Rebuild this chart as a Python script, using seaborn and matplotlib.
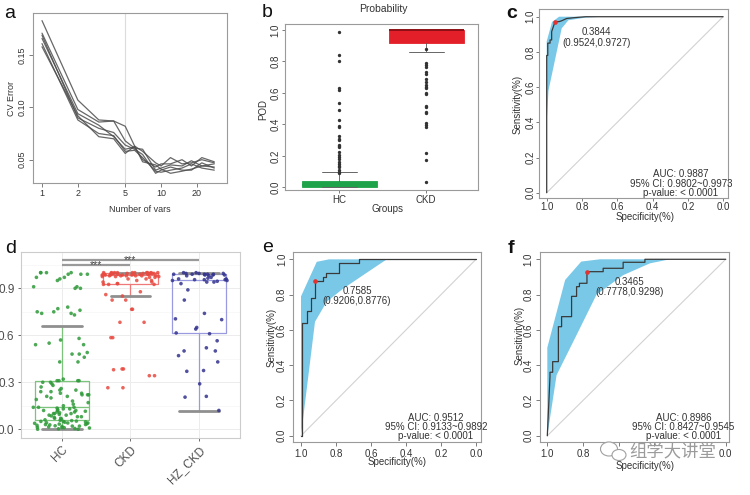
import numpy as np
import pandas as pd
import matplotlib
matplotlib.use("Agg")
import matplotlib.pyplot as plt
from matplotlib.patches import Ellipse
from matplotlib.ticker import NullLocator, FixedLocator
import seaborn as sns

# ---------------- data ----------------
# (a) CV error vs number of variables (six repeated runs)
cv_vars = [1, 2, 3, 4, 5, 6, 7, 9, 10, 12, 15, 18, 22, 28]
cv_run1 = [0.183, 0.107, 0.088, 0.087, 0.082, 0.063, 0.058, 0.047, 0.044, 0.052, 0.046, 0.047, 0.050, 0.047]
cv_run2 = [0.171, 0.098, 0.086, 0.087, 0.068, 0.061, 0.060, 0.040, 0.042, 0.045, 0.044, 0.049, 0.044, 0.046]
cv_run3 = [0.169, 0.090, 0.080, 0.076, 0.064, 0.060, 0.055, 0.037, 0.040, 0.043, 0.040, 0.040, 0.047, 0.042]
cv_run4 = [0.166, 0.094, 0.083, 0.072, 0.060, 0.062, 0.050, 0.043, 0.046, 0.046, 0.050, 0.044, 0.052, 0.048]
cv_run5 = [0.161, 0.088, 0.075, 0.073, 0.058, 0.059, 0.052, 0.039, 0.038, 0.040, 0.042, 0.046, 0.042, 0.040]
cv_run6 = [0.158, 0.092, 0.072, 0.070, 0.056, 0.063, 0.048, 0.045, 0.041, 0.037, 0.039, 0.041, 0.044, 0.043]
cv_runs = [cv_run1, cv_run2, cv_run3, cv_run4, cv_run5, cv_run6]
cv_xticks = [1, 2, 5, 10, 20]
cv_yticks = [0.05, 0.10, 0.15]
cv_ytick_labels = ["0.05", "0.10", "0.15"]
cv_selected = 5

# (b) predicted probability (POD)
prob_groups = ["HC", "CKD"]
prob_q1 = [0.003, 0.919]
prob_median = [0.012, 0.997]
prob_q3 = [0.042, 1.0]
prob_whislo = [0.0, 0.858]
prob_whishi = [0.095, 1.0]
prob_hc_outliers = [0.989, 0.841, 0.805, 0.63, 0.62, 0.534, 0.49, 0.428, 0.39, 0.383, 0.326, 0.31, 0.30,
                    0.27, 0.26, 0.255, 0.226, 0.205, 0.195, 0.178, 0.163, 0.148, 0.135, 0.127, 0.11, 0.099, 0.089]
prob_ckd_outliers = [0.877, 0.792, 0.777, 0.763, 0.735, 0.72, 0.687, 0.671, 0.65, 0.64, 0.63, 0.60, 0.595,
                     0.517, 0.508, 0.48, 0.474, 0.407, 0.395, 0.385, 0.216, 0.174, 0.036]
prob_yticks = [0.0, 0.2, 0.4, 0.6, 0.8, 1.0]
prob_ytick_labels = ["0.0", "0.2", "0.4", "0.6", "0.8", "1.0"]

# ROC common ticks
roc_xticks = [1.0, 0.8, 0.6, 0.4, 0.2, 0.0]
roc_xtick_labels = ["1.0", "0.8", "0.6", "0.4", "0.2", "0.0"]
roc_yticks = [0.0, 0.2, 0.4, 0.6, 0.8, 1.0]
roc_ytick_labels = ["0.0", "0.2", "0.4", "0.6", "0.8", "1.0"]

# (c) ROC training
c_curve_spec = [1.0, 1.0, 0.994, 0.994, 0.981, 0.981, 0.972, 0.972, 0.9524, 0.93, 0.915, 0.887, 0.84, 0.78, 0.0]
c_curve_sens = [0.0, 0.78, 0.78, 0.85, 0.85, 0.868, 0.868, 0.915, 0.9727, 0.972, 0.977, 0.99, 0.995, 1.0, 1.0]
c_hi_spec = [1.0, 1.0, 0.97, 0.93]
c_hi_sens = [0.40, 0.86, 0.97, 1.0]
c_lo_spec = [1.0, 0.99, 0.915, 0.877, 0.78, 0.68]
c_lo_sens = [0.40, 0.58, 0.934, 0.98, 0.995, 1.0]
c_best = (0.9524, 0.9727)
c_thr_text = ["0.3844", "(0.9524,0.9727)"]
c_auc_text = ["AUC: 0.9887", "95% CI: 0.9802~0.9973", "p-value: < 0.0001"]

# (e) ROC validation 1
e_curve_spec = [1.0, 0.996, 0.996, 0.967, 0.967, 0.945, 0.945, 0.9206, 0.9206, 0.876, 0.876, 0.857, 0.857,
                0.78, 0.78, 0.667, 0.667, 0.0]
e_curve_sens = [0.0, 0.0, 0.637, 0.637, 0.71, 0.71, 0.78, 0.78, 0.8776, 0.8776, 0.90, 0.90, 0.92,
                0.92, 0.977, 0.977, 1.0, 1.0]
e_hi_spec = [1.0, 1.0, 0.91, 0.84]
e_hi_sens = [0.0, 0.79, 0.986, 1.0]
e_lo_spec = [1.0, 0.92, 0.853, 0.758, 0.587, 0.51]
e_lo_sens = [0.0, 0.646, 0.76, 0.835, 0.949, 1.0]
e_best = (0.9206, 0.8776)
e_thr_text = ["0.7585", "(0.9206,0.8776)"]
e_auc_text = ["AUC: 0.9512", "95% CI: 0.9133~0.9892", "p-value: < 0.0001"]

# (f) ROC validation 2
f_curve_spec = [1.0, 0.985, 0.985, 0.97, 0.97, 0.938, 0.938, 0.92, 0.92, 0.864, 0.864, 0.836, 0.836,
                0.82, 0.82, 0.7778, 0.7778, 0.687, 0.687, 0.575, 0.575, 0.453, 0.453, 0.0]
f_curve_sens = [0.0, 0.335, 0.36, 0.36, 0.42, 0.42, 0.618, 0.618, 0.675, 0.675, 0.79, 0.79, 0.845,
                0.845, 0.864, 0.864, 0.9298, 0.9298, 0.949, 0.949, 0.983, 0.983, 1.0, 1.0]
f_hi_spec = [1.0, 1.0, 0.90, 0.81, 0.705]
f_hi_sens = [0.0, 0.50, 0.883, 0.987, 1.0]
f_lo_spec = [1.0, 0.948, 0.836, 0.724, 0.575, 0.425, 0.313]
f_lo_sens = [0.0, 0.344, 0.571, 0.80, 0.91, 0.977, 1.0]
f_best = (0.7778, 0.9298)
f_thr_text = ["0.3465", "(0.7778,0.9298)"]
f_auc_text = ["AUC: 0.8986", "95% CI: 0.8427~0.9545", "p-value: < 0.0001"]
f_hidden_xticks = ["0.6", "0.4", "0.2"]   # covered by the watermark in the reference

# (d) jittered box plot
d_groups = ["HC", "CKD", "HZ_CKD"]
d_hc = [0.0, 0.0, 0.003, 0.005, 0.008, 0.01, 0.01, 0.012, 0.015, 0.018, 0.02, 0.02, 0.022, 0.025, 0.028,
        0.03, 0.03, 0.033, 0.035, 0.038, 0.04, 0.04, 0.042, 0.045, 0.047, 0.05, 0.05, 0.052, 0.055, 0.057,
        0.06, 0.065, 0.07, 0.07, 0.075, 0.08, 0.08, 0.085, 0.09, 0.09, 0.095, 0.1, 0.1, 0.1, 0.105,
        0.11, 0.11, 0.115, 0.12, 0.12, 0.12, 0.125, 0.13, 0.13, 0.135, 0.14, 0.14, 0.14,
        0.15, 0.16, 0.17, 0.18, 0.19, 0.2, 0.21, 0.21, 0.22, 0.22, 0.22, 0.23, 0.23, 0.24, 0.24,
        0.25, 0.25, 0.26, 0.27, 0.28, 0.29, 0.3, 0.3, 0.31, 0.31, 0.31, 0.31, 0.32,
        0.43, 0.43, 0.46, 0.48, 0.48, 0.49, 0.54, 0.54, 0.55, 0.57, 0.58,
        0.73, 0.74, 0.74, 0.75, 0.75, 0.76, 0.77, 0.78,
        0.9, 0.9, 0.91, 0.91, 0.95, 0.96, 0.97, 0.97, 0.99, 0.99, 0.99, 1.0, 1.0, 1.0, 1.0]
d_ckd = [1.0, 1.0, 1.0, 1.0, 1.0, 1.0, 1.0, 1.0, 1.0, 1.0,
         0.995, 0.995, 0.995, 0.995, 0.995, 0.995, 0.995, 0.995,
         0.99, 0.99, 0.99, 0.99, 0.99, 0.99, 0.99, 0.99,
         0.985, 0.985, 0.985, 0.985, 0.985, 0.985,
         0.98, 0.98, 0.98, 0.98, 0.98, 0.98,
         0.975, 0.975, 0.975, 0.97, 0.97, 0.96, 0.96, 0.95, 0.95, 0.94, 0.94, 0.93, 0.93,
         0.925, 0.925, 0.925, 0.878, 0.86, 0.851, 0.825, 0.825, 0.766, 0.766, 0.683, 0.683,
         0.585, 0.585, 0.385, 0.385, 0.38, 0.342, 0.342, 0.265, 0.265]
d_hz = [1.0, 1.0, 0.995, 0.995, 0.995, 0.99, 0.99, 0.99, 0.99, 0.99, 0.985, 0.985, 0.985, 0.98, 0.98,
        0.97, 0.965, 0.96, 0.96, 0.955, 0.955, 0.955, 0.95, 0.95, 0.945, 0.94, 0.94, 0.93,
        0.89, 0.825, 0.74, 0.705, 0.70, 0.65, 0.64, 0.615, 0.61, 0.565, 0.52, 0.50, 0.50, 0.47,
        0.43, 0.375, 0.37, 0.29, 0.21, 0.205, 0.12]
d_q1 = [0.057, 0.925, 0.615]
d_median = [0.14, 0.985, 0.95]
d_q3 = [0.31, 0.995, 0.99]
d_whislo = [0.0, 0.85, 0.115]
d_whishi = [0.66, 1.0, 1.0]
d_yticks = [0.0, 0.3, 0.6, 0.9]
d_ytick_labels = ["0.0", "0.3", "0.6", "0.9"]
sig_pairs = [(0, 1), (0, 2)]
sig_y = [1.048, 1.08]
sig_labels = ["***", "***"]

watermark = "组学大讲堂"

# ---------------- style ----------------
sns.set_theme(style="white")
plt.rcParams['font.family'] = ['Liberation Sans', 'Noto Sans CJK SC', 'DejaVu Sans']
plt.rcParams['axes.unicode_minus'] = False

W, H = 750, 495
fig = plt.figure(figsize=(W / 100, H / 100), dpi=100)
fig.patch.set_facecolor('white')


def axpx(l, t, r, b):
    return fig.add_axes([l / W, 1 - b / H, (r - l) / W, (b - t) / H])


def ftext(x, y, s, **kw):
    kw.setdefault('ha', 'center')
    kw.setdefault('va', 'center')
    return fig.text(x / W, 1 - y / H, s, **kw)


SPINE = '#9a9a9a'
TXT = '#333333'


def rstyle(ax, size=7, length=3, pad=1.5):
    ax.set_facecolor('white')
    for sp in ax.spines.values():
        sp.set_visible(True)
        sp.set_color(SPINE)
        sp.set_linewidth(0.8)
    ax.tick_params(direction='out', length=length, width=0.6, color='#666666',
                   labelsize=size, labelcolor=TXT, pad=pad, bottom=True, left=True)
    ax.grid(False)


# ---------------- panel a ----------------
ax_a = axpx(33.3, 13.3, 226.7, 182.7)
rows = []
for k, run in enumerate(cv_runs):
    for v, e in zip(cv_vars, run):
        rows.append((k, v, e))
df_a = pd.DataFrame(rows, columns=['run', 'vars', 'err'])
ax_a.axvline(cv_selected, color='#ead6d6', lw=0.8, zorder=1)
sns.lineplot(data=df_a, x='vars', y='err', units='run', estimator=None,
             color='#4d4d4d', lw=0.9, alpha=0.85, ax=ax_a, zorder=2)
ax_a.set_xscale('log')
ax_a.set_xlim(0.845, 35.6)
ax_a.set_ylim(0.028, 0.19)
ax_a.set_xticks(cv_xticks)
ax_a.set_xticklabels([str(t) for t in cv_xticks])
ax_a.xaxis.set_minor_locator(NullLocator())
ax_a.set_yticks(cv_yticks)
ax_a.set_yticklabels(cv_ytick_labels, rotation=90, va='center')
ax_a.set_xlabel('')
ax_a.set_ylabel('')
rstyle(ax_a, 6.5)
ftext(11, 98, 'CV Error', rotation=90, fontsize=6.5, color=TXT)
ftext(140, 209, 'Number of vars', fontsize=6.5, color=TXT)

# ---------------- panel b ----------------
ax_b = axpx(285, 24, 478.3, 190.5)
prob_fill = ['#1fa34a', '#e3202a']
prob_dark = ['#1fa34a', '#8c0f14']
prob_outliers = [prob_hc_outliers, prob_ckd_outliers]
for i in range(2):
    st = [dict(med=prob_median[i], q1=prob_q1[i], q3=prob_q3[i],
               whislo=prob_whislo[i], whishi=prob_whishi[i], fliers=prob_outliers[i])]
    ax_b.bxp(st, positions=[i + 1], widths=0.86, patch_artist=True, showfliers=True,
             capwidths=0.4,
             boxprops=dict(facecolor=prob_fill[i], edgecolor=prob_fill[i], lw=0.6),
             medianprops=dict(color=prob_dark[i], lw=1.4),
             whiskerprops=dict(color='#555555', lw=0.6),
             capprops=dict(color='#666666', lw=0.7),
             flierprops=dict(marker='o', markersize=1.4, markerfacecolor='#333333',
                             markeredgecolor='#333333', linestyle='none'))
ax_b.set_xlim(0.379, 2.598)
ax_b.set_ylim(-0.02, 1.038)
ax_b.set_xticks([1, 2])
ax_b.set_xticklabels(prob_groups)
ax_b.set_yticks(prob_yticks)
ax_b.set_yticklabels(prob_ytick_labels, rotation=90, va='center')
rstyle(ax_b, 7, length=2.5, pad=1)
ftext(383, 9.5, 'Probability', fontsize=7.5, color=TXT)
ftext(263, 109, 'POD', rotation=90, fontsize=7, color=TXT)
ftext(388, 209, 'Groups', fontsize=7, color=TXT)

# ---------------- ROC panels ----------------
BAND = '#79c8e8'


def roc_panel(ax, c_spec, c_sens, hi_spec, hi_sens, lo_spec, lo_sens, best,
              thr_text, thr_pos, auc_text, auc_pos, xlim, ylim, length=3, pad=1.5):
    ax.fill(list(hi_spec) + list(lo_spec)[::-1], list(hi_sens) + list(lo_sens)[::-1],
            color=BAND, lw=0, zorder=1)
    ax.plot([1.0, 0.0], [0.0, 1.0], color='#d2d2d2', lw=0.8, zorder=2)
    ax.plot(c_spec, c_sens, color='#3a3a3a', lw=0.9, zorder=3)
    ax.plot([best[0]], [best[1]], 'o', ms=2.3, color='#e5322d', zorder=4)
    ax.set_xlim(*xlim)
    ax.set_ylim(*ylim)
    ax.set_xticks(roc_xticks)
    ax.set_xticklabels(roc_xtick_labels)
    ax.set_yticks(roc_yticks)
    ax.set_yticklabels(roc_ytick_labels, rotation=90, va='center')
    rstyle(ax, 7, length=length, pad=pad)
    ax.text(thr_pos[0], thr_pos[1], thr_text[0], ha='center', va='center', fontsize=7, color=TXT)
    ax.text(thr_pos[0], thr_pos[2], thr_text[1], ha='center', va='center', fontsize=7, color=TXT)
    for line, y in zip(auc_text, auc_pos[1:]):
        ax.text(auc_pos[0], y, line, ha='center', va='center', fontsize=7, color=TXT)


ax_c = axpx(539.3, 8.8, 727.5, 198)
roc_panel(ax_c, c_curve_spec, c_curve_sens, c_hi_spec, c_hi_sens, c_lo_spec, c_lo_sens, c_best,
          c_thr_text, (0.717, 0.911, 0.852), c_auc_text, (0.24, 0.104, 0.052, 0.0),
          (1.042, -0.025), (-0.03, 1.045), length=2, pad=0.8)
ftext(518, 104, 'Sensitivity(%)', rotation=90, fontsize=7, color=TXT)
ftext(645, 217, 'Specificity(%)', fontsize=7, color=TXT)

ax_e = axpx(293.3, 252.3, 480.7, 442.3)
roc_panel(ax_e, e_curve_spec, e_curve_sens, e_hi_spec, e_hi_sens, e_lo_spec, e_lo_sens, e_best,
          e_thr_text, (0.68, 0.822, 0.763), e_auc_text, (0.229, 0.099, 0.048, 0.0),
          (1.044, -0.027), (-0.037, 1.04))
ftext(272, 337, 'Sensitivity(%)', rotation=90, fontsize=7, color=TXT)
ftext(397, 462, 'Specificity(%)', fontsize=7, color=TXT)

ax_f = axpx(540, 251.7, 729.3, 442.3)
roc_panel(ax_f, f_curve_spec, f_curve_sens, f_hi_spec, f_hi_sens, f_lo_spec, f_lo_sens, f_best,
          f_thr_text, (0.541, 0.873, 0.816), f_auc_text, (0.237, 0.099, 0.048, 0.0),
          (1.041, -0.02), (-0.037, 1.043))
for tl in ax_f.get_xticklabels():
    if tl.get_text() in f_hidden_xticks:
        tl.set_visible(False)
ftext(520, 335, 'Sensitivity(%)', rotation=90, fontsize=7, color=TXT)
ftext(645, 466, 'Specificity(%)', fontsize=7, color=TXT)

# ---------------- panel d ----------------
ax_d = axpx(20.7, 252.3, 240, 437.7)
d_values = [d_hc, d_ckd, d_hz]
df_d = pd.DataFrame({'group': [g for g, vals in zip(d_groups, d_values) for _ in vals],
                     'value': [v for vals in d_values for v in vals]})
d_box_colors = ['#7cc47c', '#f07878', '#9a9ae0']
d_point_colors = ['#2f9a3a', '#e84a40', '#33338f']
for i in range(3):
    st = [dict(med=d_median[i], q1=d_q1[i], q3=d_q3[i], whislo=d_whislo[i], whishi=d_whishi[i])]
    ax_d.bxp(st, positions=[i], widths=0.8, showfliers=False, capwidths=0.58,
             boxprops=dict(color=d_box_colors[i], lw=0.9),
             medianprops=dict(color=d_box_colors[i], lw=0.9),
             whiskerprops=dict(color=d_box_colors[i], lw=0.9),
             capprops=dict(color='#8f8f8f', lw=2.0))
np.random.seed(7)
sns.stripplot(data=df_d, x='group', y='value', hue='group', order=d_groups, hue_order=d_groups,
              palette=d_point_colors, jitter=0.42, size=2.6, linewidth=0, alpha=0.85,
              legend=False, ax=ax_d, zorder=3)
for (a, b), y, lab in zip(sig_pairs, sig_y, sig_labels):
    ax_d.plot([a, b], [y, y], color='#9a9a9a', lw=1.6, solid_capstyle='butt', zorder=4)
    ax_d.text((a + b) / 2, y, lab, ha='center', va='center', fontsize=7.5, color='#444444', zorder=5)
ax_d.set_xlim(-0.603, 2.6)
ax_d.set_ylim(-0.054, 1.13)
ax_d.set_xticks([0, 1, 2])
ax_d.set_xticklabels(d_groups, rotation=45, ha='right', rotation_mode='anchor')
ax_d.set_yticks(d_yticks)
ax_d.set_yticklabels(d_ytick_labels)
ax_d.yaxis.set_minor_locator(FixedLocator([0.15, 0.45, 0.75, 1.05]))
ax_d.set_xlabel('')
ax_d.set_ylabel('')
ax_d.set_facecolor('white')
ax_d.set_axisbelow(True)
ax_d.grid(True, which='major', color='#ececec', lw=0.7)
ax_d.grid(True, which='minor', axis='y', color='#f5f5f5', lw=0.5)
for sp in ax_d.spines.values():
    sp.set_visible(True)
    sp.set_color('#cccccc')
    sp.set_linewidth(0.8)
ax_d.tick_params(axis='both', which='major', direction='out', length=2.5, width=0.6,
                 color='#555555', labelsize=8.5, labelcolor='#4d4d4d', pad=2,
                 bottom=True, left=True)
ax_d.tick_params(axis='y', which='minor', length=0)

# ---------------- panel letters ----------------
for lab, x, y, wt in [('a', 4, 18, 'normal'), ('b', 262, 17, 'normal'), ('c', 506, 18, 'bold'),
                      ('d', 5, 253, 'normal'), ('e', 262, 252, 'normal'), ('f', 508, 253, 'bold')]:
    ftext(x, y, lab, ha='left', va='baseline', fontsize=14, color='#111111', fontweight=wt)

# ---------------- watermark ----------------
fig.add_artist(Ellipse((609 / W, 1 - 449 / H), 17 / W, 14 / H, transform=fig.transFigure,
                       facecolor='white', edgecolor='#a0a0a0', lw=0.8, zorder=6))
fig.add_artist(Ellipse((619 / W, 1 - 455 / H), 14 / W, 11 / H, transform=fig.transFigure,
                       facecolor='white', edgecolor='#a0a0a0', lw=0.8, zorder=6))
ftext(673, 451, watermark, fontsize=12.5, color='#9b9b9b',
      family=['Noto Sans CJK SC', 'DejaVu Sans'], zorder=7)

fig.savefig('out.png', dpi=100, facecolor='white')
